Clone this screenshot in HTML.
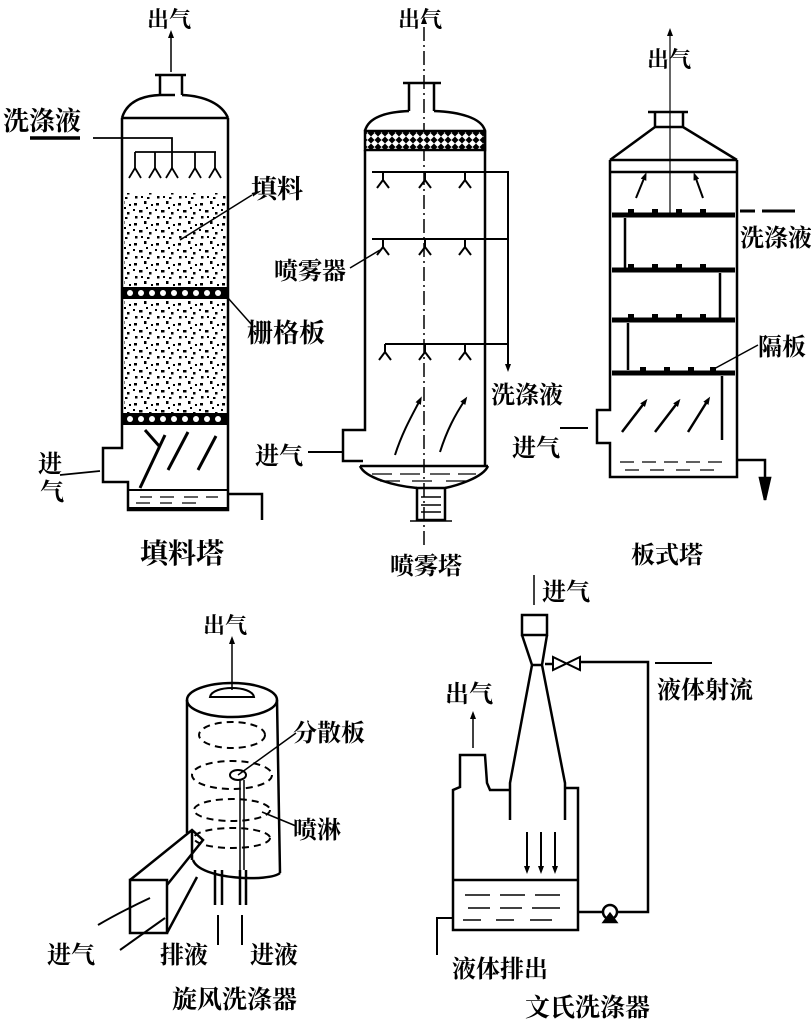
<!DOCTYPE html>
<html><head><meta charset="utf-8"><style>
html,body{margin:0;padding:0;background:#fff}
svg{display:block}
text{font-family:"Liberation Serif","Noto Serif CJK SC","Noto Sans CJK SC",serif;fill:#000;font-weight:bold}
</style></head><body>
<svg width="811" height="1020" viewBox="0 0 811 1020" xmlns="http://www.w3.org/2000/svg">
<defs>
<pattern id="dots" width="22" height="20" patternUnits="userSpaceOnUse">
<rect x="2" y="3" width="3" height="2.5" fill="#000"/><rect x="12" y="1" width="2.5" height="3" fill="#000"/>
<rect x="7" y="10" width="3.5" height="2.5" fill="#000"/><rect x="17" y="12" width="2.5" height="2.5" fill="#000"/>
<rect x="3" y="16" width="2.5" height="2.5" fill="#000"/><rect x="14" y="7" width="2" height="2" fill="#000"/>
<rect x="19" y="4" width="2" height="2" fill="#000"/><rect x="9" y="16" width="2" height="2" fill="#000"/>
<rect x="1" y="9" width="2" height="2" fill="#000"/><rect x="15" y="17" width="2.5" height="2" fill="#000"/>
</pattern>
<pattern id="mesh" width="7" height="7" patternUnits="userSpaceOnUse">
<rect width="7" height="7" fill="#000"/><path d="M0 3.5L3.5 0L7 3.5L3.5 7Z" fill="#fff"/>
</pattern>
<marker id="ah" markerWidth="8" markerHeight="8" refX="4" refY="4" orient="auto" markerUnits="userSpaceOnUse">
<path d="M0 1L8 4L0 7Z" fill="#000"/></marker>
</defs>
<g stroke="#000" fill="none" stroke-width="2.5">

<!-- ===== Packed tower ===== -->
<line x1="171" y1="72" x2="171" y2="34" stroke-width="1.5" marker-end="url(#ah)"/>
<path d="M155 75H186M160 75V95M182 75V95"/>
<path d="M160 95 H175 M182 95 C205 96 222 104 228 118 M160 95 C138 96 126 104 122 118"/>
<line x1="122" y1="118" x2="228" y2="118"/>
<path d="M122 118V448H103V482H128V510H228V118"/>
<rect x="128" y="490" width="100" height="18" stroke-width="2"/>
<path d="M140 497h12M160 497h14M184 497h14M206 497h12M136 503h14M160 503h12M182 503h14" stroke-width="1.2"/>
<path d="M228 494H262V520"/>
<path d="M30 138H80" stroke-width="3.5"/>
<path d="M93 138H172V152M135 152H216" stroke-width="1.8"/>
<path d="M135 152V168M155 152V168M172 152V168M195 152V168M215 152V168" stroke-width="1.8"/>
<path d="M129 178L135 168L141 178M149 178L155 168L161 178M166 178L172 168L178 178M189 178L195 168L201 178M209 178L215 168L221 178" stroke-width="1.8"/>
<rect x="124" y="193" width="102" height="94" fill="url(#dots)" stroke="none"/>
<rect x="124" y="300" width="102" height="113" fill="url(#dots)" stroke="none"/>
<rect x="122" y="287" width="106" height="12" fill="#000" stroke="none"/>
<rect x="122" y="413" width="106" height="12" fill="#000" stroke="none"/>
<g fill="#fff" stroke="none">
<circle cx="130" cy="293" r="3"/><circle cx="141" cy="293" r="3"/><circle cx="152" cy="293" r="3"/><circle cx="163" cy="293" r="3"/><circle cx="174" cy="293" r="3"/><circle cx="185" cy="293" r="3"/><circle cx="196" cy="293" r="3"/><circle cx="207" cy="293" r="3"/><circle cx="218" cy="293" r="3"/>
<circle cx="130" cy="419" r="3"/><circle cx="141" cy="419" r="3"/><circle cx="152" cy="419" r="3"/><circle cx="163" cy="419" r="3"/><circle cx="174" cy="419" r="3"/><circle cx="185" cy="419" r="3"/><circle cx="196" cy="419" r="3"/><circle cx="207" cy="419" r="3"/><circle cx="218" cy="419" r="3"/>
</g>
<path d="M140 488L165 435" stroke-width="3"/><path d="M145 430L160 447" stroke-width="3"/>
<path d="M168 470L188 432" stroke-width="3"/><path d="M198 470L216 436" stroke-width="3"/>
<path d="M60 475L100 471" stroke-width="1.8"/>
<path d="M180 240L252 195" stroke-width="1.5"/>
<path d="M228 298L252 325" stroke-width="1.5"/>

<!-- ===== Spray tower ===== -->
<line x1="424" y1="545" x2="424" y2="20" stroke-width="1.5" stroke-dasharray="14 4 2 4" marker-end="url(#ah)"/>
<path d="M403 83H441M409 83V111M434 83V111"/>
<path d="M409 111C385 112 368 118 365 131M434 111C460 112 482 118 485 131"/>
<rect x="365" y="131" width="120" height="19" fill="url(#mesh)"/>
<path d="M365 150V430H343V461H363M485 131V466"/>
<path d="M360 466C365 478 395 486 417 488M488 466C483 478 455 486 445 488M360 466H488"/>
<path d="M372 474h20M400 474h20M430 474h20M458 474h18M380 481h20M412 481h20M446 481h20" stroke-width="1.2"/>
<rect x="417" y="488" width="28" height="32"/>
<path d="M410 521H452M421 497h20M421 505h20M421 512h20" stroke-width="1.5"/>
<path d="M372 172H508V365M372 239H508M385 344H508" stroke-width="2"/>
<line x1="508" y1="350" x2="508" y2="368" stroke-width="2" marker-end="url(#ah)"/>
<path d="M383 172V180M425 172V180M465 172V180M383 239V247M425 239V247M465 239V247M385 344V352M425 344V352M465 344V352" stroke-width="2"/>
<path d="M377 188L383 180L389 188M419 188L425 180L431 188M459 188L465 180L471 188M377 255L383 247L389 255M419 255L425 247L431 255M459 255L465 247L471 255M379 360L385 352L391 360M419 360L425 352L431 360M459 360L465 352L471 360" stroke-width="2"/>
<path d="M350 268L380 250" stroke-width="1.5"/>
<path d="M395 455C403 430 415 410 420 400" stroke-width="2" marker-end="url(#ah)"/>
<path d="M440 452C447 430 455 415 465 400" stroke-width="2" marker-end="url(#ah)"/>
<path d="M308 452H343" stroke-width="2"/>

<!-- ===== Plate tower ===== -->
<line x1="670" y1="215" x2="670" y2="32" stroke-width="1.2" marker-end="url(#ah)"/>
<path d="M648 112H688M655 112V127M683 112V127M655 127H683M655 127L610 160M683 127L737 160"/>
<path d="M610 160H737M610 172H737"/>
<path d="M610 160V410H597V443H610V477H737V160"/>
<path d="M737 460H765V478"/>
<path d="M765 478L760 478L765 500L770 478Z" fill="#000"/>
<line x1="765" y1="478" x2="765" y2="500" stroke-width="3"/>
<path d="M620 462h14M642 462h14M664 462h14M686 462h14M708 462h14M625 470h14M650 470h14M676 470h14M700 470h14" stroke-width="1.2"/>
<g stroke-width="5">
<path d="M612 215H735M612 270H735M612 320H735M612 373H735"/>
</g>
<g fill="#000" stroke="none">
<rect x="628" y="209" width="6" height="8"/><rect x="652" y="209" width="6" height="8"/><rect x="676" y="209" width="6" height="8"/><rect x="700" y="209" width="6" height="8"/>
<rect x="628" y="264" width="6" height="8"/><rect x="652" y="264" width="6" height="8"/><rect x="676" y="264" width="6" height="8"/><rect x="700" y="264" width="6" height="8"/>
<rect x="628" y="314" width="6" height="8"/><rect x="652" y="314" width="6" height="8"/><rect x="676" y="314" width="6" height="8"/><rect x="700" y="314" width="6" height="8"/>
<rect x="640" y="367" width="6" height="8"/><rect x="664" y="367" width="6" height="8"/><rect x="688" y="367" width="6" height="8"/><rect x="710" y="367" width="6" height="8"/>
</g>
<path d="M625 218V268M720 273V318M628 323V370M722 376V440"/>
<path d="M740 211H755M762 211H795" stroke-width="3"/>
<path d="M636 198L645 176" stroke-width="2" marker-end="url(#ah)"/>
<path d="M703 198L695 176" stroke-width="2" marker-end="url(#ah)"/>
<path d="M622 432L645 402" stroke-width="2.5" marker-end="url(#ah)"/>
<path d="M655 432L678 402" stroke-width="2.5" marker-end="url(#ah)"/>
<path d="M688 432L708 400" stroke-width="2.5" marker-end="url(#ah)"/>
<path d="M560 428H588" stroke-width="2"/>
<path d="M758 345L712 370" stroke-width="1.5"/>

<!-- ===== Cyclone ===== -->
<line x1="232" y1="690" x2="232" y2="640" stroke-width="1.5" marker-end="url(#ah)"/>
<ellipse cx="232" cy="700" rx="45" ry="17"/>
<path d="M210 697C212 685 252 685 254 697Z" stroke-width="2"/>
<path d="M187 700V833M277 700L280 873"/>
<path d="M193 860C200 880 270 882 280 873"/>
<g stroke-width="2" stroke-dasharray="7 5">
<ellipse cx="232" cy="735" rx="33" ry="13"/>
<ellipse cx="232" cy="775" rx="40" ry="14"/>
<ellipse cx="232" cy="810" rx="38" ry="11"/>
<ellipse cx="232" cy="838" rx="38" ry="10"/>
</g>
<ellipse cx="238" cy="775" rx="8" ry="5" stroke-width="2"/>
<path d="M240 780V870M244 780V870" stroke-width="1.5"/>
<path d="M238 775L296 733M262 812L296 826" stroke-width="1.5"/>
<path d="M130 880H167V933H130Z"/>
<path d="M130 880L192 830L203 840L167 885M167 933L197 877M192 830V860"/>
<path d="M215 870V905M222 870V905M240 870V905M246 870V905"/>
<path d="M218 915V945M242 915V945" stroke-width="2"/>
<path d="M98 925C115 915 135 905 150 898M120 950L165 918" stroke-width="2"/>

<!-- ===== Venturi ===== -->
<line x1="534" y1="605" x2="534" y2="575" stroke-width="1.5"/>
<rect x="522" y="615" width="25" height="20"/>
<path d="M522 635L532 665M547 635L542 665M532 665H542M532 665L510 783V820M542 665L565 783V820"/>
<path d="M565 788H578V930H453V790L460 787V755H485L487 783L490 790H510"/>
<path d="M453 880H578"/>
<path d="M465 895h25M500 895h25M535 895h25M468 908h22M500 908h22M532 908h28M463 920h18M496 920h18M530 920h22" stroke-width="1.5"/>
<line x1="527" y1="832" x2="527" y2="870" stroke-width="2" marker-end="url(#ah)"/>
<line x1="541" y1="832" x2="541" y2="870" stroke-width="2" marker-end="url(#ah)"/>
<line x1="555" y1="832" x2="555" y2="870" stroke-width="2" marker-end="url(#ah)"/>
<path d="M578 912H603M617 912H648V662H580"/>
<circle cx="610" cy="912" r="7"/>
<path d="M604 922L610 914L616 922Z" fill="#000"/>
<path d="M553 657V670L580 657V670Z" stroke-width="2"/>
<path d="M545 664H553"/>
<path d="M655 663H712" stroke-width="2"/>
<path d="M453 918H437V955" stroke-width="2"/>
<line x1="473" y1="748" x2="473" y2="715" stroke-width="1.5" marker-end="url(#ah)"/>
</g>

<!-- ===== Labels ===== -->
<g font-size="22">
<text x="147" y="27">出气</text>
<text x="398" y="27">出气</text>
<text x="647" y="67">出气</text>
<text x="3" y="130" font-size="26">洗涤液</text>
<text x="251" y="198" font-size="26">填料</text>
<text x="247" y="342" font-size="26">栅格板</text>
<text x="38" y="472" font-size="24">进</text>
<text x="40" y="500" font-size="24">气</text>
<text x="140" y="563" font-size="28">填料塔</text>
<text x="274" y="279" font-size="24">喷雾器</text>
<text x="491" y="403" font-size="24" font-weight="normal">洗涤液</text>
<text x="255" y="464" font-size="24">进气</text>
<text x="390" y="574" font-size="24">喷雾塔</text>
<text x="740" y="246" font-size="24">洗涤液</text>
<text x="758" y="355" font-size="24">隔板</text>
<text x="512" y="456" font-size="24">进气</text>
<text x="631" y="563" font-size="24" font-weight="normal">板式塔</text>
<text x="203" y="633">出气</text>
<text x="293" y="741" font-size="24">分散板</text>
<text x="293" y="838" font-size="24">喷淋</text>
<text x="47" y="963" font-size="24">进气</text>
<text x="160" y="963" font-size="24">排液</text>
<text x="250" y="963" font-size="24">进液</text>
<text x="172" y="1008" font-size="25">旋风洗涤器</text>
<text x="542" y="600" font-size="24">进气</text>
<text x="445" y="702" font-size="24">出气</text>
<text x="657" y="698" font-size="24">液体射流</text>
<text x="452" y="977" font-size="24">液体排出</text>
<text x="525" y="1016" font-size="25" font-weight="normal">文氏洗涤器</text>
</g>
</svg>
</body></html>
